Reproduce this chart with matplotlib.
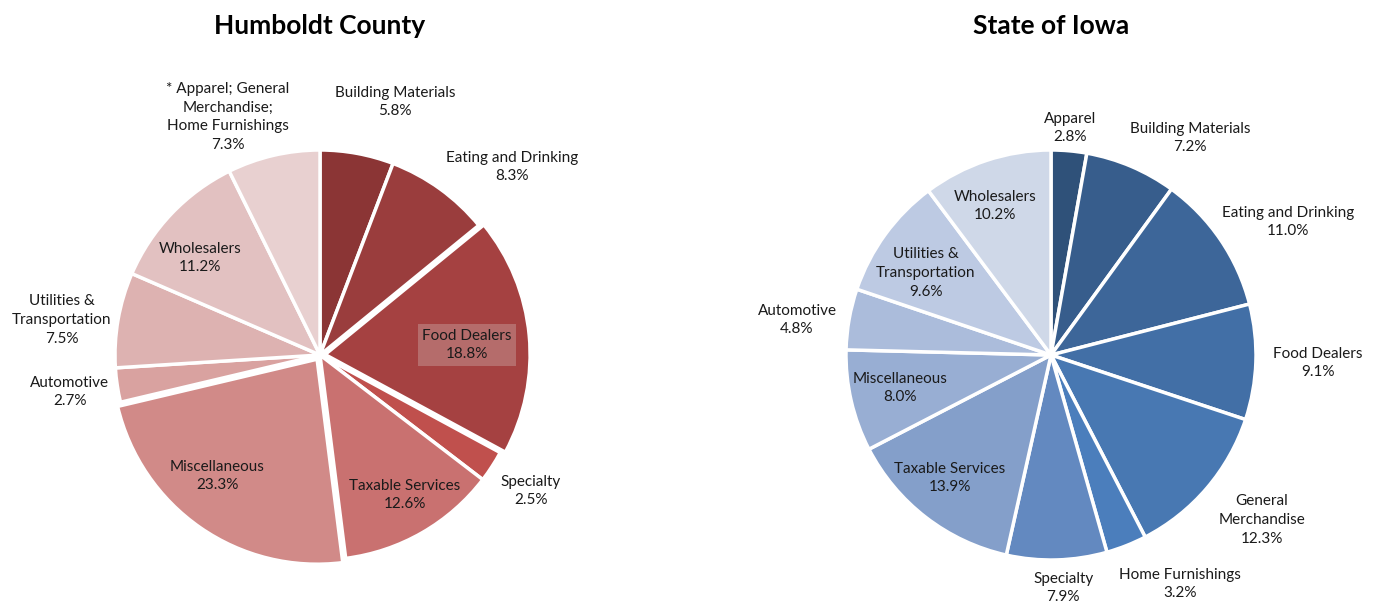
import matplotlib.pyplot as plt

plt.rcParams['font.family'] = ['Lato', 'DejaVu Sans']

# Humboldt County shares (clockwise from 12 o'clock)
hc_labels = ["Building Materials", "Eating and Drinking", "Food Dealers", "Specialty",
             "Taxable Services", "Miscellaneous", "Automotive",
             "Utilities &\nTransportation", "Wholesalers",
             "* Apparel; General\nMerchandise;\nHome Furnishings"]
hc_values = [5.8, 8.3, 18.8, 2.5, 12.6, 23.3, 2.7, 7.5, 11.2, 7.3]

# State of Iowa shares
ia_labels = ["Apparel", "Building Materials", "Eating and Drinking", "Food Dealers",
             "General\nMerchandise", "Home Furnishings", "Specialty", "Taxable Services",
             "Miscellaneous", "Automotive", "Utilities &\nTransportation", "Wholesalers"]
ia_values = [2.8, 7.2, 11.0, 9.1, 12.3, 3.2, 7.9, 13.9, 8.0, 4.8, 9.6, 10.2]

hc_colors = ["#8B3535", "#9A3D3D", "#A54141", "#C0504D", "#C97170", "#D18A88",
             "#D9A2A0", "#DDB2B1", "#E2C1C1", "#E8D0D0"]
ia_colors = ["#2F5179", "#375D8C", "#3D6699", "#426FA6", "#4878B2", "#4B7EBC",
             "#6389C0", "#849FCA", "#98AED3", "#ABBCDB", "#BDCAE3", "#CFD8E8"]

hc_explode = [0, 0, 0.025, 0, 0, 0.025, 0, 0, 0, 0]
ia_explode = [0] * len(ia_values)

# label anchor points, in units of the pie radius
hc_label_xy = [(0.366, 1.234), (0.937, 0.917), (0.717, 0.049), (1.029, -0.663),
               (0.415, -0.683), (-0.502, -0.590), (-1.220, -0.180), (-1.259, 0.171),
               (-0.585, 0.473), (-0.449, 1.161)]
ia_label_xy = [(0.093, 1.107), (0.678, 1.059), (1.156, 0.649), (1.302, -0.039),
               (1.029, -0.805), (0.629, -1.117), (0.059, -1.137), (-0.493, -0.600),
               (-0.737, -0.161), (-1.239, 0.171), (-0.610, 0.400), (-0.273, 0.727)]

W, H = 1382, 607
R = 205.0
fig = plt.figure(figsize=(W / 100, H / 100), dpi=100)


def draw_pie(cx, cy, x0, x1, values, labels, colors, explode, label_xy, title, boxed=None):
    ax = fig.add_axes([x0 / W, 0, (x1 - x0) / W, 1])
    ax.pie(values, colors=colors, explode=explode, startangle=90, counterclock=False,
           radius=1, wedgeprops=dict(edgecolor="white", linewidth=2.5))
    ax.set_xlim(-(cx - x0) / R, (x1 - cx) / R)
    ax.set_ylim(-(H - cy) / R, cy / R)
    ax.set_aspect("auto")
    ax.axis("off")
    for i, (lab, v) in enumerate(zip(labels, values)):
        x, y = label_xy[i]
        kw = {}
        if boxed is not None and i == boxed:
            kw["bbox"] = dict(boxstyle="square,pad=0.3", facecolor="#C08A88",
                              edgecolor="none", alpha=0.6)
        ax.text(x, y, f"{lab}\n{v:.1f}%", ha="center", va="center", fontsize=11,
                color="#1a1a1a", linespacing=1.42, **kw)
    ax.text(0, (cy - 26) / R, title, ha="center", va="center", fontsize=19,
            fontweight="bold", color="black")
    return ax


draw_pie(320, 355, 0, 660, hc_values, hc_labels, hc_colors, hc_explode, hc_label_xy,
         "Humboldt County", boxed=2)
draw_pie(1051, 355, 700, 1382, ia_values, ia_labels, ia_colors, ia_explode, ia_label_xy,
         "State of Iowa")

fig.savefig("out.png", dpi=100, facecolor="white")
